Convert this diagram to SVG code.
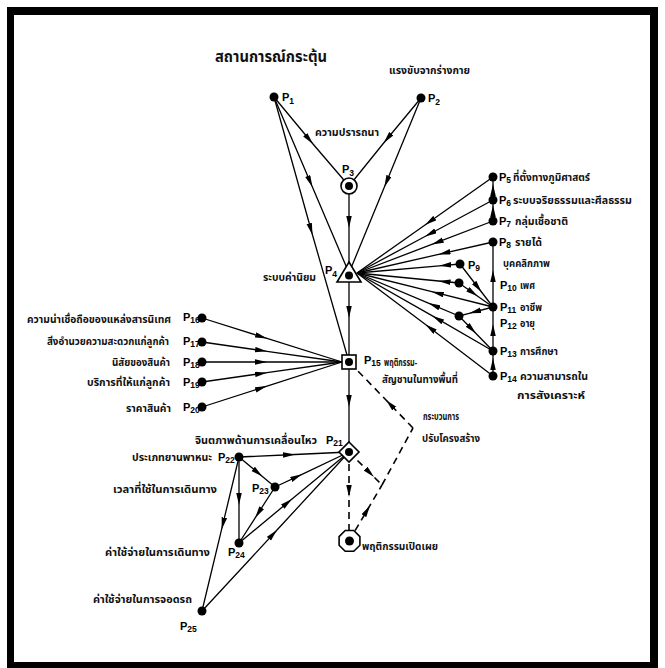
<svg xmlns="http://www.w3.org/2000/svg" width="665" height="668" viewBox="0 0 665 668">
  <style>
    .ln { stroke: #000; stroke-width: 1.3; fill: none; }
    .ar { marker-mid: url(#ah); }
    .ds { stroke-dasharray: 7 5; stroke-width: 1.6; }
    .dot { fill: #000; }
    .shape { fill: #fff; stroke: #000; stroke-width: 1.6; }
    .th { font-family: "Noto Sans Thai", "Noto Serif Thai", "Tlwg Typist", "Garuda", "Loma", "Noto Sans", "DejaVu Sans", sans-serif; font-size: 11px; font-weight: bold; fill: #111; }
    .sm { font-size: 10px; }
    .title { font-size: 15px; }
    .pl { font-family: "Liberation Sans", Arial, sans-serif; font-size: 11px; font-weight: bold; fill: #000; }
    .sub { font-size: 8.5px; }
  </style>
  <defs>
    <marker id="ah" markerWidth="13" markerHeight="6" refX="12" refY="2.75" orient="auto" markerUnits="userSpaceOnUse">
      <path d="M0,0 L12,2.75 L0,5.5 z" fill="#000"/>
    </marker>
  </defs>

  <!-- page -->
  <rect x="0" y="0" width="665" height="668" fill="#fff"/>
  <g id="frame" fill="#000">
    <rect x="7" y="7" width="651" height="8"/>
    <rect x="7" y="7" width="7" height="661"/>
    <rect x="650" y="7" width="8" height="661"/>
    <rect x="7" y="662" width="651" height="6"/>
  </g>

  <!-- connectors -->
  <g id="connectors">
    <path class="ln ar" d="M274,97 L313,144 L349,186"/>
    <path class="ln ar" d="M421,98 L383.7,143 L349,186"/>
    <path class="ln ar" d="M274,97 L312.4,187 L349,273"/>
    <path class="ln ar" d="M421,98 L384.4,187 L349,273"/>
    <path class="ln ar" d="M274,97 L312.5,235 L349,362"/>
    <path class="ln ar" d="M349,186 L349,228 L349,273"/>
    <path class="ln ar" d="M349,273 L349,318 L349,362"/>
    <path class="ln ar" d="M349,362 L349,407 L349,452"/>

    <!-- right-hand factors into the value system -->
    <path class="ln ar" d="M493,177 L425,225 L357,273"/>
    <path class="ln ar" d="M493,200 L425,236.5 L357,273"/>
    <path class="ln ar" d="M493,221 L431.8,244.4 L357,273"/>
    <path class="ln ar" d="M493,242 L438.6,254.4 L357,273"/>
    <path class="ln ar" d="M460,264 L439.4,265.8 L357,273"/>
    <path class="ln ar" d="M459,283 L438.6,281 L357,273"/>
    <path class="ln ar" d="M493,307 L431.8,291.7 L357,273"/>
    <path class="ln ar" d="M459,316 L428.4,303.1 L357,273"/>
    <path class="ln ar" d="M493,351 L432.4,315.9 L357,273"/>
    <path class="ln ar" d="M493,376 L425.5,324.5 L357,273"/>

    <path class="ln ar" d="M493,200 L493,184 L493,177"/>
    <path class="ln ar" d="M493,221 L493,205 L493,200"/>
    <path class="ln ar" d="M493,307 L493,270 L493,242"/>
    <path class="ln ar" d="M493,351 L493,324 L493,307"/>
    <path class="ln ar" d="M493,376 L493,358 L493,351"/>

    <path class="ln ar" d="M460,264 L481.5,292 L493,307"/>
    <path class="ln ar" d="M459,283 L477.7,296.2 L493,307"/>
    <path class="ln ar" d="M493,307 L469.2,313.3 L459,316"/>
    <path class="ln ar" d="M459,316 L476,333.5 L493,351"/>

    <!-- left-hand factors into the behaviour node -->
    <path class="ln ar" d="M202,318 L267,338.4 L342,362"/>
    <path class="ln ar" d="M202,342 L267,351.3 L342,362"/>
    <path class="ln ar" d="M202,362 L267,362 L342,362"/>
    <path class="ln ar" d="M202,382 L267,372.7 L342,362"/>
    <path class="ln ar" d="M202,407 L267,386.1 L342,362"/>

    <!-- movement image cluster -->
    <path class="ln ar" d="M239,457 L295,454.5 L349,452"/>
    <path class="ln ar" d="M239,457 L262.4,476.5 L275,487"/>
    <path class="ln ar" d="M275,487 L302,474.3 L349,452"/>
    <path class="ln ar" d="M239,457 L239,505 L239,543"/>
    <path class="ln ar" d="M275,487 L255.2,517.8 L239,543"/>
    <path class="ln ar" d="M239,543 L292,499 L349,452"/>
    <path class="ln ar" d="M239,457 L221.6,529.4 L202,611"/>
    <path class="ln ar" d="M202,611 L277,530 L349,452"/>

    <!-- restructuring feedback (dashed) -->
    <path class="ln ds ar" d="M349,452 L349,497 L349,541"/>
    <path class="ln ds ar" d="M349,452 L374,477 L382,485"/>
    <path class="ln ds ar" d="M349,541 L370,505.4 L382,485"/>
    <path class="ln ds" d="M382,485 L413,428"/>
    <path class="ln ds ar" d="M413,428 L386,400 L356,369"/>
  </g>

  <!-- free labels -->
  <g id="labels">
    <text class="th title" x="215" y="62" textLength="112" lengthAdjust="spacingAndGlyphs">สถานการณ์กระตุ้น</text>
    <text class="th" x="389" y="74" textLength="81" lengthAdjust="spacingAndGlyphs">แรงขับจากร่างกาย</text>
    <text class="th" x="315" y="136" textLength="64" lengthAdjust="spacingAndGlyphs">ความปรารถนา</text>
    <text class="th" x="263" y="281" textLength="53" lengthAdjust="spacingAndGlyphs">ระบบค่านิยม</text>
    <text class="th" x="503" y="267" textLength="47" lengthAdjust="spacingAndGlyphs">บุคคลิกภาพ</text>
    <text class="th" x="423" y="420" textLength="36" lengthAdjust="spacingAndGlyphs">กระบวนการ</text>
    <text class="th" x="422" y="442" textLength="58" lengthAdjust="spacingAndGlyphs">ปรับโครงสร้าง</text>
    <text class="th" x="195" y="444" textLength="122" lengthAdjust="spacingAndGlyphs">จินตภาพด้านการเคลื่อนไหว</text>
  </g>

  <!-- nodes -->
  <g id="p1"><circle class="dot" cx="274" cy="97" r="4.5"/><text class="pl" x="282" y="101">P<tspan class="sub" dy="3">1</tspan></text></g>
  <g id="p2"><circle class="dot" cx="421" cy="98" r="4.5"/><text class="pl" x="428" y="102">P<tspan class="sub" dy="3">2</tspan></text></g>
  <g id="p3">
    <circle class="shape" cx="349" cy="186" r="8"/><circle class="dot" cx="349" cy="186" r="4"/>
    <text class="pl" x="342" y="173">P<tspan class="sub" dy="3">3</tspan></text>
  </g>
  <g id="p4">
    <path class="shape" d="M349,262 L361,282 L337,282 z"/><circle class="dot" cx="349" cy="275.5" r="4"/>
    <text class="pl" x="325" y="274">P<tspan class="sub" dy="3">4</tspan></text>
  </g>
  <g id="p5"><circle class="dot" cx="493" cy="177" r="4.5"/><text class="pl" x="499" y="181">P<tspan class="sub" dy="2">5</tspan></text>
    <text class="th" x="513" y="181" textLength="77" lengthAdjust="spacingAndGlyphs">ที่ตั้งทางภูมิศาสตร์</text></g>
  <g id="p6"><circle class="dot" cx="493" cy="200" r="4.5"/><text class="pl" x="499" y="204">P<tspan class="sub" dy="2">6</tspan></text>
    <text class="th" x="513" y="204" textLength="119" lengthAdjust="spacingAndGlyphs">ระบบจริยธรรมและศีลธรรม</text></g>
  <g id="p7"><circle class="dot" cx="493" cy="221" r="4.5"/><text class="pl" x="499" y="225">P<tspan class="sub" dy="2">7</tspan></text>
    <text class="th" x="515" y="225" textLength="53" lengthAdjust="spacingAndGlyphs">กลุ่มเชื้อชาติ</text></g>
  <g id="p8"><circle class="dot" cx="493" cy="242" r="4.5"/><text class="pl" x="499" y="246">P<tspan class="sub" dy="2">8</tspan></text>
    <text class="th" x="515" y="246" textLength="27" lengthAdjust="spacingAndGlyphs">รายได้</text></g>
  <g id="p9"><circle class="dot" cx="460" cy="264" r="4.5"/><text class="pl" x="468" y="269">P<tspan class="sub" dy="2">9</tspan></text></g>
  <g id="p10"><circle class="dot" cx="459" cy="283" r="4.5"/><text class="pl" x="500" y="289">P<tspan class="sub" dy="2">10</tspan></text>
    <text class="th" x="520" y="289" textLength="15" lengthAdjust="spacingAndGlyphs">เพศ</text></g>
  <g id="p11"><circle class="dot" cx="493" cy="307" r="4.5"/><text class="pl" x="500" y="311">P<tspan class="sub" dy="2">11</tspan></text>
    <text class="th" x="520" y="311" textLength="22" lengthAdjust="spacingAndGlyphs">อาชีพ</text></g>
  <g id="p12"><circle class="dot" cx="459" cy="316" r="4.5"/><text class="pl" x="500" y="327">P<tspan class="sub" dy="2">12</tspan></text>
    <text class="th" x="520" y="327" textLength="15" lengthAdjust="spacingAndGlyphs">อายุ</text></g>
  <g id="p13"><circle class="dot" cx="493" cy="351" r="4.5"/><text class="pl" x="500" y="355">P<tspan class="sub" dy="2">13</tspan></text>
    <text class="th" x="520" y="355" textLength="38" lengthAdjust="spacingAndGlyphs">การศึกษา</text></g>
  <g id="p14"><circle class="dot" cx="493" cy="376" r="4.5"/><text class="pl" x="500" y="380">P<tspan class="sub" dy="2">14</tspan></text>
    <text class="th" x="520" y="380" textLength="68" lengthAdjust="spacingAndGlyphs">ความสามารถใน</text>
    <text class="th" x="517" y="399" textLength="68" lengthAdjust="spacingAndGlyphs">การสังเคราะห์</text></g>
  <g id="p15">
    <rect class="shape" x="342" y="355" width="14" height="14"/><circle class="dot" cx="349" cy="362" r="4"/>
    <text class="pl" x="364" y="364">P<tspan class="sub" dy="2">15</tspan></text>
    <text class="th" x="384" y="366" textLength="33" lengthAdjust="spacingAndGlyphs">พฤติกรรม-</text>
    <text class="th" x="382" y="383" textLength="76" lengthAdjust="spacingAndGlyphs">สัญชานในทางพื้นที่</text>
  </g>
  <g id="p16"><circle class="dot" cx="202" cy="318" r="4.5"/><text class="pl" x="183" y="321">P<tspan class="sub" dy="2">16</tspan></text>
    <text class="th sm" x="27" y="323" textLength="144" lengthAdjust="spacingAndGlyphs">ความน่าเชื่อถือของแหล่งสารนิเทศ</text></g>
  <g id="p17"><circle class="dot" cx="202" cy="342" r="4.5"/><text class="pl" x="183" y="345">P<tspan class="sub" dy="2">17</tspan></text>
    <text class="th sm" x="47" y="345" textLength="122" lengthAdjust="spacingAndGlyphs">สิ่งอำนวยความสะดวกแก่ลูกค้า</text></g>
  <g id="p18"><circle class="dot" cx="202" cy="362" r="4.5"/><text class="pl" x="183" y="366">P<tspan class="sub" dy="2">18</tspan></text>
    <text class="th sm" x="112" y="366" textLength="58" lengthAdjust="spacingAndGlyphs">นิสัยของสินค้า</text></g>
  <g id="p19"><circle class="dot" cx="202" cy="382" r="4.5"/><text class="pl" x="183" y="386">P<tspan class="sub" dy="2">19</tspan></text>
    <text class="th sm" x="87" y="386" textLength="83" lengthAdjust="spacingAndGlyphs">บริการที่ให้แก่ลูกค้า</text></g>
  <g id="p20"><circle class="dot" cx="202" cy="407" r="4.5"/><text class="pl" x="183" y="411">P<tspan class="sub" dy="2">20</tspan></text>
    <text class="th sm" x="126" y="412" textLength="45" lengthAdjust="spacingAndGlyphs">ราคาสินค้า</text></g>
  <g id="p21">
    <path class="shape" d="M349,442 L359,452 L349,462 L339,452 z"/><circle class="dot" cx="349" cy="452" r="4"/>
    <text class="pl" x="326" y="444">P<tspan class="sub" dy="2">21</tspan></text>
  </g>
  <g id="p22"><circle class="dot" cx="239" cy="457" r="4.5"/><text class="pl" x="218" y="461">P<tspan class="sub" dy="2">22</tspan></text>
    <text class="th" x="132" y="461" textLength="80" lengthAdjust="spacingAndGlyphs">ประเภทยานพาหนะ</text></g>
  <g id="p23"><circle class="dot" cx="275" cy="487" r="4.5"/><text class="pl" x="252" y="492">P<tspan class="sub" dy="2">23</tspan></text>
    <text class="th" x="113" y="493" textLength="104" lengthAdjust="spacingAndGlyphs">เวลาที่ใช้ในการเดินทาง</text></g>
  <g id="p24"><circle class="dot" cx="239" cy="543" r="4.5"/><text class="pl" x="228" y="556">P<tspan class="sub" dy="2">24</tspan></text>
    <text class="th" x="105" y="556" textLength="105" lengthAdjust="spacingAndGlyphs">ค่าใช้จ่ายในการเดินทาง</text></g>
  <g id="p25"><circle class="dot" cx="202" cy="611" r="4.5"/><text class="pl" x="180" y="630">P<tspan class="sub" dy="2">25</tspan></text>
    <text class="th" x="93" y="603" textLength="99" lengthAdjust="spacingAndGlyphs">ค่าใช้จ่ายในการจอดรถ</text></g>
  <g id="overt">
    <path class="shape" d="M345.2,530.5 L353.8,530.5 L359.9,536.6 L359.9,545.2 L353.8,551.3 L345.2,551.3 L339.1,545.2 L339.1,536.6 z"/>
    <circle class="dot" cx="349.5" cy="541" r="4.5"/>
    <text class="th" x="362" y="550" textLength="76" lengthAdjust="spacingAndGlyphs">พฤติกรรมเปิดเผย</text>
  </g>
</svg>
